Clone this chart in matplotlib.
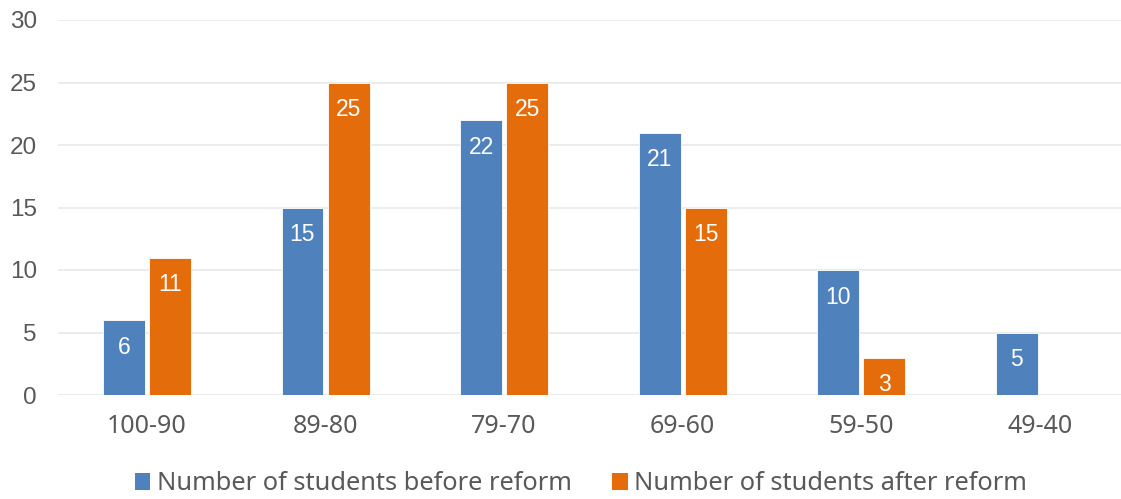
import numpy as np
import matplotlib
matplotlib.use("Agg")
import matplotlib.pyplot as plt
from matplotlib.patches import Patch

categories = ["100-90", "89-80", "79-70", "69-60", "59-50", "49-40"]
before = [6, 15, 22, 21, 10, 5]
after = [11, 25, 25, 15, 3, 0]
labels = ["Number of students before reform", "Number of students after reform"]

blue = "#4F81BD"
orange = "#E46C0A"
grey = "#595959"

fig = plt.figure(figsize=(11.21, 4.99), dpi=100)
ax = fig.add_axes([57.7 / 1121, 104 / 499, (1129 - 57.7) / 1121, 375 / 499])

x = np.arange(len(categories))
w = 0.235
off = 0.129
b1 = ax.bar(x - off, before, w, color=blue, edgecolor="white", linewidth=0.6, zorder=3)
b2 = ax.bar(x + off, after, w, color=orange, edgecolor="white", linewidth=0.6, zorder=3)

# value labels inside bars, near the top
for bars, vals in ((b1, before), (b2, after)):
    for r, v in zip(bars, vals):
        if v == 0:
            continue
        ax.annotate(str(v), (r.get_x() + r.get_width() / 2, v), xytext=(0, -19.5),
                    textcoords="offset points", ha="center", va="center",
                    color="white", fontsize=16.5, family="Liberation Sans", zorder=4)

ax.set_xlim(-0.5, len(categories) - 0.5)
ax.set_ylim(0, 30)
ax.set_yticks(range(0, 31, 5))
ax.set_xticks(x)
ax.set_xticklabels(categories, family="Noto Sans", fontsize=18, color=grey)
for t in ax.get_yticklabels():
    t.set_family("Liberation Sans")
    t.set_fontsize(17.5)
    t.set_color(grey)
ax.tick_params(axis="y", length=0, pad=15)
ax.tick_params(axis="x", length=0, pad=14)
ax.grid(axis="y", color="#EBEBEB", linewidth=1.3, zorder=0)
for s in ax.spines.values():
    s.set_visible(False)

handles = [Patch(facecolor=blue), Patch(facecolor=orange)]
fig.legend(handles, labels, loc="center", bbox_to_anchor=(581 / 1121, 1 - 484 / 499),
           ncol=2, frameon=False, handlelength=0.62, handleheight=0.62,
           handletextpad=0.25, columnspacing=1.6,
           prop={"family": "Noto Sans", "size": 18.3}, labelcolor=grey)

fig.savefig("out.png", dpi=100)
